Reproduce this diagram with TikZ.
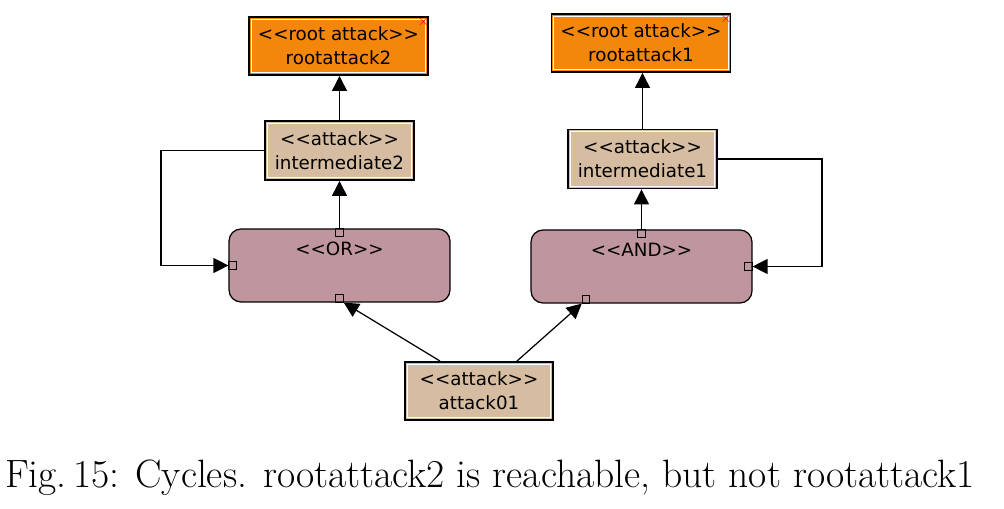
\documentclass[tikz,border=0pt]{standalone}
\usepackage{fontspec}
\newfontfamily\diagfont{DejaVu Sans}
\usepackage{tikz}
\usetikzlibrary{arrows.meta, positioning, calc}

\definecolor{rootorange}{RGB}{242,135,12}
\definecolor{attacktan}{RGB}{214,188,160}
\definecolor{gatemauve}{RGB}{191,150,158}
\newcommand{\stereo}[1]{<{}<#1>{}>}

\begin{document}
\begin{tikzpicture}[
    x=0.02cm, y=-0.02cm,
    box/.style={rectangle, draw, line width=1.1pt, align=center, inner sep=0pt,
        font=\diagfont\fontsize{10.4}{13.5}\selectfont,
        path picture={\draw[white, line width=0.6pt] ([shift={(1.3pt,1.3pt)}]path picture bounding box.south west) rectangle ([shift={(-1.3pt,-1.3pt)}]path picture bounding box.north east);}},
    rootbox/.style={box, fill=rootorange, minimum width=3.58cm, minimum height=1.16cm},
    attackbox/.style={box, fill=attacktan, minimum width=2.98cm, minimum height=1.18cm},
    gatebox/.style={rectangle, draw, rounded corners=0.24cm, line width=0.7pt, fill=gatemauve, minimum width=4.42cm, minimum height=1.46cm},
    gatelabel/.style={font=\diagfont\fontsize{10.4}{13.5}\selectfont, inner sep=0pt},
    port/.style={rectangle, draw, line width=0.6pt, inner sep=0pt, minimum size=0.15cm},
    closemark/.style={text=red, font=\bfseries\fontsize{8}{8}\selectfont, inner sep=0pt},
    arrow/.style={-{Triangle[width=8.5pt, length=8.5pt]}, line width=0.7pt},
]
    \useasboundingbox (0,0) rectangle (1004,509);

    % Root attacks
    \node[rootbox] (root2) at (338.5,46) {\stereo{root attack}\\rootattack2};
    \node[rootbox] (root1) at (641,43) {\stereo{root attack}\\rootattack1};
    \node[closemark] (mark2) at ([xshift=-0.11cm, yshift=-0.12cm]root2.north east) {$\times$};
    \node[closemark] (mark1) at ([xshift=-0.11cm, yshift=-0.12cm]root1.north east) {$\times$};

    % Intermediate attacks
    \node[attackbox] (int2) at (339.5,150.5) {\stereo{attack}\\intermediate2};
    \node[attackbox] (int1) at (642.5,159) {\stereo{attack}\\intermediate1};

    % Gates
    \node[gatebox] (orgate) at (339.5,265.5) {};
    \node[gatebox] (andgate) at (641.5,266.5) {};
    \node[gatelabel, below=0.27cm of orgate.north] (orlabel) {\stereo{OR}};
    \node[gatelabel, below=0.27cm of andgate.north] (andlabel) {\stereo{AND}};

    % Ports
    \node[port, anchor=north] (orTop) at (orgate.north) {};
    \node[port, anchor=west] (orLeft) at (orgate.west) {};
    \node[port, anchor=south] (orBot) at (orgate.south) {};
    \node[port, anchor=north] (andTop) at (andgate.north) {};
    \node[port, anchor=east] (andRight) at (andgate.east) {};
    \node[port, anchor=south] (andBot) at ([xshift=-1.11cm]andgate.south) {};

    % Leaf attack
    \node[attackbox, minimum width=2.96cm, minimum height=1.16cm] (att) at (479,391) {\stereo{attack}\\attack01};

    % Arrows
    \draw[arrow] (int2.north) -- (int2.north |- root2.south);
    \draw[arrow] (int1.north) -- (int1.north |- root1.south);
    \draw[arrow] (orTop.north) -- (orTop.north |- int2.south);
    \draw[arrow] (andTop.north) -- (andTop.north |- int1.south);
    \draw[arrow] (int2.west) -- ++(-103,0) |- (orLeft.west);
    \draw[arrow] (int1.east) -- ++(104,0) |- (andRight.east);
    \draw[arrow] ([xshift=-0.78cm]att.north) -- (orBot.south east);
    \draw[arrow] ([xshift=0.76cm]att.north) -- (andBot.south west);

    % Caption
    \node[font=\fontsize{22.5}{26}\selectfont] (caption) at (490,478) {Fig.\,15: Cycles. rootattack2 is reachable, but not rootattack1};
\end{tikzpicture}
\end{document}
